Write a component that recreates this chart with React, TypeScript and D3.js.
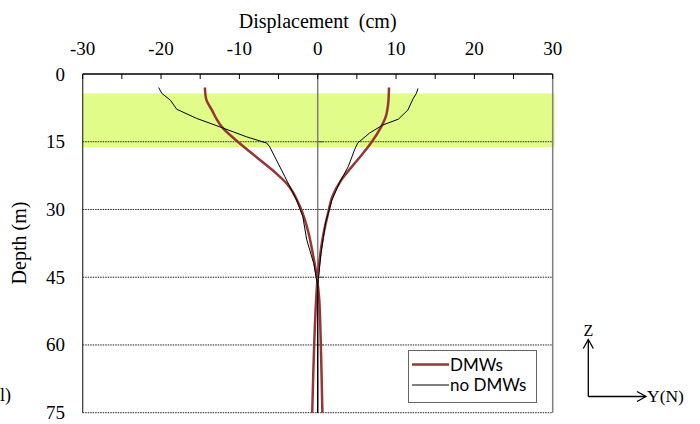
import * as d3 from "d3";

const dmwLeftDepth = [3, 5.8, 8, 10, 12, 15, 19, 22, 25, 30, 35, 40, 45, 50, 60, 75];
const dmwLeftDisp = [-14.4, -14.2, -13.5, -12.9, -12.1, -10.2, -7.4, -5.3, -3.6, -2.1, -1.2, -0.6, -0.1, 0.2, 0.4, 0.6];

const dmwRightDepth = [3, 6.5, 9.4, 11.7, 15.3, 19, 23.5, 27, 31, 36.7, 45, 50, 60, 75];
const dmwRightDisp = [9.1, 9.0, 8.7, 8.1, 6.8, 5.1, 3.0, 1.9, 1.3, 0.6, 0, -0.2, -0.45, -0.7];

const noLeftDepth = [3, 4.3, 5.8, 7.8, 9.8, 11.7, 13.9, 15.3, 16.2, 22.7, 27.9, 31.6, 36.7, 42, 47, 75];
const noLeftDisp = [-20.3, -19.9, -18.8, -18.0, -15.5, -12.5, -9.1, -6.5, -6.1, -4.2, -2.7, -1.9, -1.4, -0.5, 0, 0];

const noRightDepth = [3.2, 4.3, 5.4, 8, 10, 11.3, 13.1, 15.3, 16.8, 20.5, 24, 28, 33, 40, 47, 75];
const noRightDisp = [12.8, 12.6, 12.2, 11.5, 10.3, 8.3, 6.6, 5.1, 4.7, 3.9, 2.8, 1.8, 1.0, 0.4, 0, 0];

const xTicks = [-30, -20, -10, 0, 10, 20, 30];
const xMinorTicks = d3.range(-30, 31, 5);
const depthTicks = [0, 15, 30, 45, 60, 75];
const bandDepth = [4.3, 16.2];

const legendItems = [
  { label: "DMWs", color: "#953735", width: 2.5 },
  { label: "no DMWs", color: "#000000", width: 1 },
];

const SERIF = "'Liberation Serif', 'Times New Roman', serif";
const SANS = "Lato, 'Liberation Sans', sans-serif";

export default function App() {
  const W = 700;
  const H = 424;

  const x = d3.scaleLinear().domain([-30, 30]).range([82.7, 552.7]);
  const y = d3.scaleLinear().domain([0, 75]).range([74, 412.7]);

  const toPts = (depth: number[], disp: number[]) =>
    depth.map((d, i) => [disp[i], d] as [number, number]);

  const smooth = d3
    .line<[number, number]>()
    .x((p) => x(p[0]))
    .y((p) => y(p[1]))
    .curve(d3.curveCatmullRom);

  const straight = d3
    .line<[number, number]>()
    .x((p) => x(p[0]))
    .y((p) => y(p[1]));

  const x0 = x(0);

  return (
    <svg
      width={W}
      height={H}
      style={{ position: "absolute", left: 0, top: 0, background: "#fff" }}
    >
      {/* shaded layer */}
      <rect
        x={x(-30)}
        y={y(bandDepth[0])}
        width={x(30) - x(-30) + 2}
        height={y(bandDepth[1]) - y(bandDepth[0])}
        fill="#e1fc88"
      />

      {/* dotted gridlines */}
      {depthTicks.slice(1).map((d) => (
        <line
          key={`g${d}`}
          x1={x(-30)}
          x2={x(30)}
          y1={y(d)}
          y2={y(d)}
          stroke="#222"
          strokeWidth={1}
          strokeDasharray="1.5 1"
        />
      ))}

      {/* plot borders */}
      <line x1={x(-30)} x2={x(-30)} y1={y(0)} y2={y(75)} stroke="#333" strokeWidth={1.2} />
      <line x1={x(30)} x2={x(30)} y1={y(0)} y2={y(75)} stroke="#808080" strokeWidth={1.5} />

      {/* vertical axis at x = 0 */}
      <line x1={x0} x2={x0} y1={y(0)} y2={y(75)} stroke="#7f7f7f" strokeWidth={1.5} />
      {depthTicks.slice(1, -1).map((d) => (
        <line key={`vt${d}`} x1={x0} x2={x0 + 6} y1={y(d)} y2={y(d)} stroke="#555" strokeWidth={1} />
      ))}

      {/* top axis */}
      <line x1={x(-30)} x2={x(30)} y1={y(0)} y2={y(0)} stroke="#000" strokeWidth={1.5} />
      {xMinorTicks.map((t) => (
        <line key={`xt${t}`} x1={x(t)} x2={x(t)} y1={y(0)} y2={y(0) + 5} stroke="#000" strokeWidth={1} />
      ))}
      {xTicks.map((t) => (
        <text
          key={`xl${t}`}
          x={x(t)}
          y={55}
          textAnchor="middle"
          fontFamily={SERIF}
          fontSize={19}
          fill="#000"
        >
          {t}
        </text>
      ))}
      <text x={x(0)} y={28} textAnchor="middle" fontFamily={SERIF} fontSize={20} fill="#000" xmlSpace="preserve">
        {"Displacement  (cm)"}
      </text>

      {/* depth labels */}
      {depthTicks.map((d) => (
        <text
          key={`yl${d}`}
          x={65}
          y={y(d) + 6.5}
          textAnchor="end"
          fontFamily={SERIF}
          fontSize={19}
          fill="#000"
        >
          {d}
        </text>
      ))}
      <text
        transform={`translate(26,243) rotate(-90)`}
        textAnchor="middle"
        fontFamily={SERIF}
        fontSize={20}
        fill="#000"
      >
        Depth (m)
      </text>

      {/* curves */}
      <path d={smooth(toPts(dmwLeftDepth, dmwLeftDisp)) ?? ""} fill="none" stroke="#953735" strokeWidth={2.5} />
      <path d={smooth(toPts(dmwRightDepth, dmwRightDisp)) ?? ""} fill="none" stroke="#953735" strokeWidth={2.5} />
      <path d={straight(toPts(noLeftDepth, noLeftDisp)) ?? ""} fill="none" stroke="#000" strokeWidth={1} />
      <path d={straight(toPts(noRightDepth, noRightDisp)) ?? ""} fill="none" stroke="#000" strokeWidth={1} />

      {/* legend */}
      <rect x={408.5} y={350.5} width={128} height={52} fill="#fff" stroke="#666" strokeWidth={1} />
      {legendItems.map((it, i) => (
        <g key={it.label} transform={`translate(0,${364.5 + i * 20.5})`}>
          <line x1={412} x2={449} y1={0} y2={0} stroke={it.color} strokeWidth={it.width} />
          <text x={450} y={6} fontFamily={SANS} fontSize={17} fill="#000">
            {it.label}
          </text>
        </g>
      ))}

      {/* coordinate arrows */}
      <g stroke="#000" strokeWidth={1.3} fill="none">
        <line x1={588.3} x2={588.3} y1={396.5} y2={339.5} />
        <polyline points="583.3,348.5 588.3,339.5 593.3,348.5" />
        <line x1={588.3} x2={645.5} y1={396.5} y2={396.5} />
        <polyline points="637,391.5 646,396.5 637,401.5" />
      </g>
      <text x={588.5} y={335.5} textAnchor="middle" fontFamily={SERIF} fontSize={16} fill="#000">
        Z
      </text>
      <text x={647} y={401.7} fontFamily={SERIF} fontSize={17.5} fill="#000">
        Y(N)
      </text>

      {/* panel label remnant at the left edge */}
      <text x={0} y={401} fontFamily={SERIF} fontSize={18} fill="#000">
        l)
      </text>
    </svg>
  );
}
